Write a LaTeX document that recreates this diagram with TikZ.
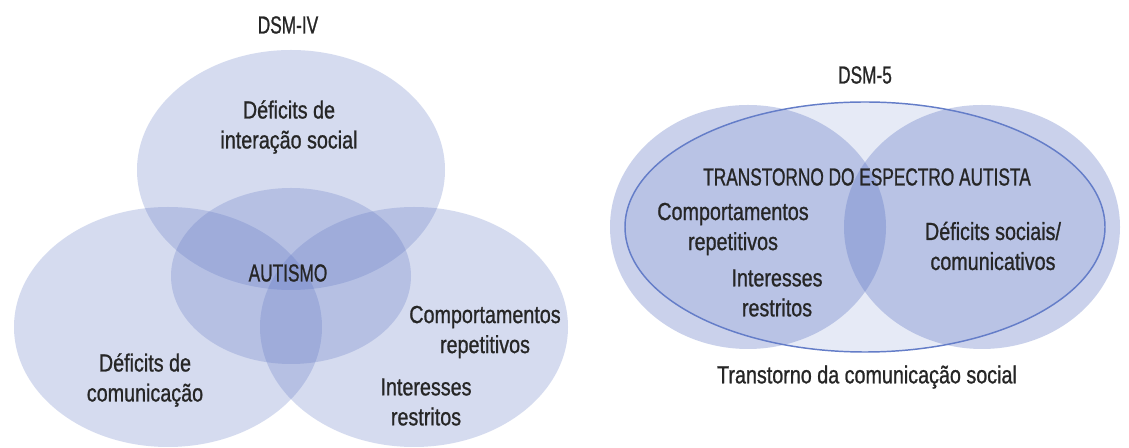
\documentclass[tikz,border=0pt]{standalone}
\usepackage{fontspec}
\setmainfont{Liberation Sans}[FakeStretch=0.80,FakeBold=0.9]
\newfontfamily\capsfont{Liberation Sans}[FakeStretch=0.70,FakeBold=0.9]
\definecolor{vennblue}{RGB}{91,115,195}
\definecolor{rimblue}{RGB}{100,125,200}
\definecolor{inkgray}{RGB}{38,38,38}
\begin{document}
\begin{tikzpicture}[x=0.75pt,y=-0.75pt,
  disc/.style={fill=vennblue,fill opacity=0.25},
  twodisc/.style={fill=vennblue,fill opacity=0.32},
  hull/.style={fill=vennblue,fill opacity=0.15},
  label/.style={text=inkgray,align=center,inner sep=0pt,
    font=\fontsize{18.5}{22.5}\selectfont},
  caplabel/.style={label,font=\capsfont\fontsize{18.5}{22.5}\selectfont}]
\useasboundingbox (0,0) rectangle (1129,448);
\fill[white] (0,0) rectangle (1129,448);

% DSM-IV: three criteria circles and the central autism disc
\fill[disc] (291,170) ellipse [x radius=154, y radius=120];
\fill[disc] (168,327) ellipse [x radius=154, y radius=120];
\fill[disc] (414,327) ellipse [x radius=154, y radius=120];
\fill[disc] (291,276) ellipse [x radius=120, y radius=88];

\node[caplabel] (dsmiv) at (288,25) {DSM-IV};
\node[label] (social) at (289,127) {Déficits de\\interação social};
\node[caplabel] (autismo) at (288,273) {AUTISMO};
\node[label] (comunic) at (145,380) {Déficits de\\comunicação};
\node[label] (comport) at (485,332) {Comportamentos\\repetitivos};
\node[label] (interes) at (426,402) {Interesses\\restritos};

% DSM-5: spectrum ellipse over two overlapping domains
\fill[hull] (865,227) ellipse [x radius=240, y radius=125];
\fill[twodisc] (748,227) ellipse [x radius=138, y radius=122];
\fill[twodisc] (982,227) ellipse [x radius=138, y radius=122];
\draw[rimblue,line width=1.1pt] (865,227) ellipse [x radius=240, y radius=125];

\node[caplabel] (dsmv) at (865,75) {DSM-5};
\node[caplabel] (tea) at (867,177) {TRANSTORNO DO ESPECTRO AUTISTA};
\node[label] (comport2) at (733,229) {Comportamentos\\repetitivos};
\node[label] (interes2) at (777,293) {Interesses\\restritos};
\node[label] (deficits2) at (993,246) {Déficits sociais/\\comunicativos};
\node[label] (tcs) at (867,377) {Transtorno da comunicação social};
\end{tikzpicture}
\end{document}
